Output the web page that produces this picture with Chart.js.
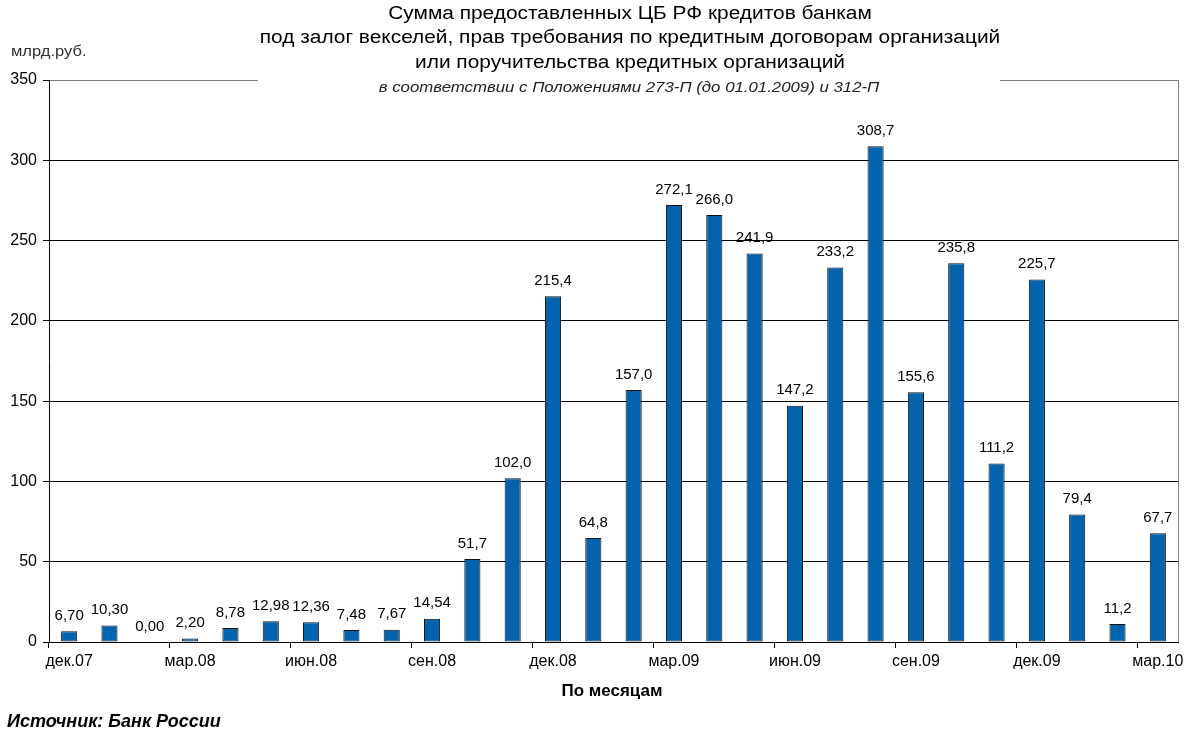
<!DOCTYPE html>
<html>
<head>
<meta charset="utf-8">
<script src="https://cdn.jsdelivr.net/npm/chart.js@4.4.1/dist/chart.umd.min.js"></script>
<style>
  body { margin: 0; background: #fff; }
  #wrap { width: 1197px; height: 742px; position: relative; }
</style>
</head>
<body>
<div id="wrap"><canvas id="grafico"></canvas></div>
<script>
const meses = ["дек.07", "янв.08", "фев.08", "мар.08", "апр.08", "май.08", "июн.08", "июл.08", "авг.08",
  "сен.08", "окт.08", "ноя.08", "дек.08", "янв.09", "фев.09", "мар.09", "апр.09", "май.09", "июн.09",
  "июл.09", "авг.09", "сен.09", "окт.09", "ноя.09", "дек.09", "янв.10", "фев.10", "мар.10"];
const valores = [6.70, 10.30, 0.00, 2.20, 8.78, 12.98, 12.36, 7.48, 7.67, 14.54, 51.7, 102.0, 215.4, 64.8,
  157.0, 272.1, 266.0, 241.9, 147.2, 233.2, 308.7, 155.6, 235.8, 111.2, 225.7, 79.4, 11.2, 67.7];
const casasDecimais = [2, 2, 2, 2, 2, 2, 2, 2, 2, 2, 1, 1, 1, 1, 1, 1, 1, 1, 1, 1, 1, 1, 1, 1, 1, 1, 1, 1];
const titulo = ["Сумма предоставленных ЦБ РФ кредитов банкам",
  "под залог векселей, прав требования по кредитным договорам организаций",
  "или поручительства кредитных организаций"];
const subtitulo = "в соответствии с Положениями 273-П (до 01.01.2009) и 312-П";
const unidade = "млрд.руб.";
const tituloX = "По месяцам";
const fonte = "Источник: Банк России";

const FAMILIA = "'Liberation Sans', Arial, sans-serif";

// texto esticado na horizontal (a imagem original é mais larga)
function textoEsticado(ctx, txt, x, y, sx) {
  ctx.save();
  ctx.translate(x, y);
  ctx.scale(sx, 1);
  ctx.fillText(txt, 0, 0);
  ctx.restore();
}

const textosPlugin = {
  id: "textos",
  afterDatasetsDraw(chart) {
    const ctx = chart.ctx;
    const meta = chart.getDatasetMeta(0);
    ctx.save();
    ctx.font = "15px " + FAMILIA;
    ctx.fillStyle = "#000";
    ctx.textAlign = "center";
    ctx.textBaseline = "bottom";
    meta.data.forEach((bar, i) => {
      const txt = valores[i].toFixed(casasDecimais[i]).replace(".", ",");
      ctx.fillText(txt, bar.x, bar.y - 8);
    });
    ctx.restore();
  },
  afterDraw(chart) {
    const ctx = chart.ctx;
    const a = chart.chartArea;
    ctx.save();
    // borda direita cinza
    ctx.strokeStyle = "#808080";
    ctx.lineWidth = 1;
    ctx.beginPath();
    ctx.moveTo(a.right + 0.5, a.top);
    ctx.lineTo(a.right + 0.5, a.bottom);
    ctx.stroke();
    // fundo branco do título
    ctx.fillStyle = "#fff";
    ctx.fillRect(258, 0, 742, 96);
    ctx.fillStyle = "#000";
    ctx.textAlign = "center";
    ctx.textBaseline = "middle";
    ctx.font = "18px " + FAMILIA;
    titulo.forEach((linha, i) => textoEsticado(ctx, linha, 630, 14 + i * 24.5, 1.16));
    ctx.font = "italic 14px " + FAMILIA;
    ctx.fillStyle = "#222";
    textoEsticado(ctx, subtitulo, 629, 88, 1.2);
    ctx.font = "bold 16px " + FAMILIA;
    ctx.fillStyle = "#000";
    textoEsticado(ctx, tituloX, 612, 692, 1.06);
    ctx.textAlign = "left";
    ctx.font = "bold italic 18px " + FAMILIA;
    ctx.fillText(fonte, 7, 722);
    ctx.font = "14px " + FAMILIA;
    ctx.fillStyle = "#333";
    textoEsticado(ctx, unidade, 11, 52, 1.18);
    ctx.restore();
  }
};

new Chart(document.getElementById("grafico"), {
  type: "bar",
  data: {
    labels: meses,
    datasets: [{
      data: valores,
      backgroundColor: "#0563ad",
      borderColor: "#111",
      borderWidth: 1,
      borderSkipped: false,
      barPercentage: 0.4,
      categoryPercentage: 1.0
    }]
  },
  options: {
    responsive: true,
    maintainAspectRatio: false,
    animation: false,
    layout: { padding: { top: 80, right: 19, left: 0, bottom: 0 } },
    plugins: {
      legend: { display: false },
      tooltip: { enabled: false }
    },
    scales: {
      x: {
        afterFit: s => { s.height = 100; },
        grid: {
          offset: true,
          drawOnChartArea: false,
          tickLength: 6,
          tickColor: c => (c.index % 3 === 0 ? "#000" : "rgba(0,0,0,0)")
        },
        border: { color: "#000", width: 1 },
        ticks: {
          autoSkip: false,
          maxRotation: 0,
          padding: 4,
          color: "#000",
          font: { family: FAMILIA, size: 16 },
          callback: (v, i) => (i % 3 === 0 ? meses[i] : "")
        }
      },
      y: {
        min: 0,
        max: 350,
        afterFit: s => { s.width = 49; },
        grid: {
          color: c => (c.tick && c.tick.value === 350 ? "#808080" : "#000"),
          tickColor: "#000",
          tickLength: 6
        },
        border: { color: "#000", width: 1 },
        ticks: {
          stepSize: 50,
          padding: 6,
          color: "#000",
          font: { family: FAMILIA, size: 16 }
        }
      }
    }
  },
  plugins: [textosPlugin]
});
</script>
</body>
</html>
